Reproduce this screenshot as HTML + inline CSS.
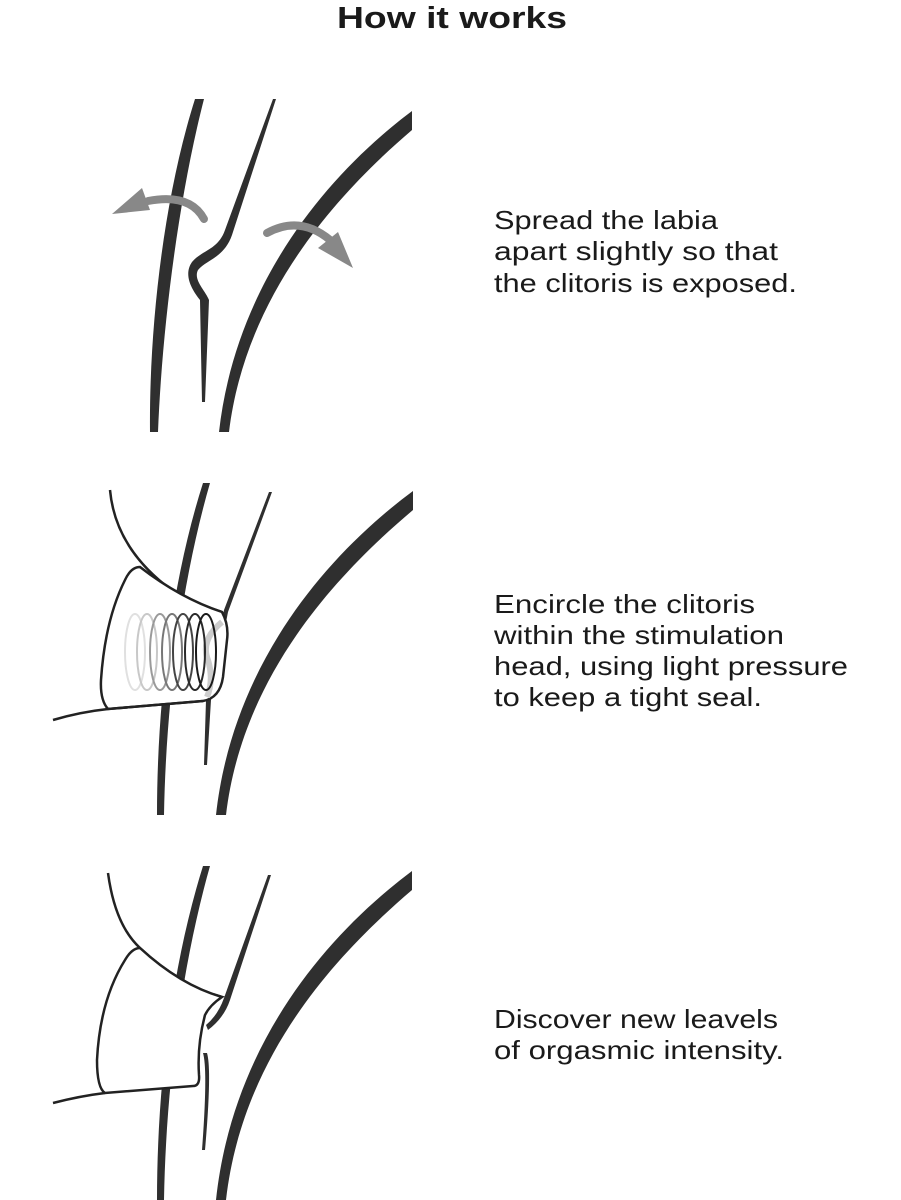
<!DOCTYPE html>
<html><head><meta charset="utf-8"><style>
html,body{margin:0;padding:0;background:#fff}
svg{display:block}
text{font-family:"Liberation Sans",sans-serif;fill:#1a1a1a}
</style></head><body>
<svg width="901" height="1200" viewBox="0 0 901 1200" xmlns="http://www.w3.org/2000/svg">
<text x="337" y="28" font-size="31" font-weight="bold" textLength="230" lengthAdjust="spacingAndGlyphs">How it works</text>

<!-- Panel 1 -->
<g fill="#2f2f2f">
<path d="M195,99 C163,200 149,330 150,432 L158,432 C162,330 178,200 204,99 Z"/>
<path d="M273,99 L225,230 C218,250 202,250 192,262 C183,275 192,290 200,300 L202,402 L205,402 L209,300 C205,290 193,280 198,270 C206,260 224,258 232,235 L276,99 Z"/>
<path d="M412,111 C320,180 235,290 219,432 L229,432 C245,300 330,200 412,130 Z"/>
</g>
<g fill="none" stroke="#888" stroke-width="8" stroke-linecap="round">
<path d="M204,219 Q190,193 148,201"/>
<path d="M267,233 Q300,215 330,240"/>
</g>
<g fill="#888">
<polygon points="112,214 142,188 150,210"/>
<polygon points="353,268 318,248 338,232"/>
</g>

<!-- Panel 2 -->
<g fill="#2f2f2f">
<path d="M203,483 C172,580 157,700 157,815 L164,815 C166,700 182,580 210,483 Z"/>
<path d="M269,492 L224,610 L206,700 L204,765 L207,765 L211,700 L228,612 L272,492 Z"/>
<path d="M413,491 C320,560 232,670 216,815 L226,815 C242,680 330,580 413,510 Z"/>
</g>
<path d="M110,490 Q115,545 165,585 Q190,602 222,612" fill="none" stroke="#222" stroke-width="2.5"/>
<path d="M140,567 Q180,598 222,612 Q229,625 227,640 L223,677 Q220,698 203,701 L108,709 Q100,700 101,680 Q105,620 125,580 Q131,567 140,567 Z" fill="#fff" stroke="#222" stroke-width="2.5"/>
<path d="M222,622 Q200,640 208,660 Q214,680 207,697" fill="none" stroke="#ccc" stroke-width="6"/>
<path d="M53,720 Q80,712 108,709 L203,701" fill="none" stroke="#222" stroke-width="2.5"/>
<g fill="none" stroke-width="2">
<ellipse cx="135" cy="652" rx="10" ry="38" stroke="#e0e0e0"/>
<ellipse cx="147" cy="652" rx="10" ry="38" stroke="#c8c8c8"/>
<ellipse cx="160" cy="652" rx="10" ry="38" stroke="#9a9a9a"/>
<ellipse cx="172" cy="652" rx="10" ry="38" stroke="#777"/>
<ellipse cx="183" cy="652" rx="10" ry="38" stroke="#444"/>
<ellipse cx="195" cy="652" rx="10" ry="38" stroke="#2a2a2a"/>
<ellipse cx="206" cy="652" rx="10" ry="38" stroke="#1a1a1a"/>
</g>

<!-- Panel 3 -->
<g fill="#2f2f2f">
<path d="M203,866 C172,965 157,1085 157,1200 L164,1200 C166,1085 182,965 210,866 Z"/>
<path d="M268,875 L224,998 Q218,1015 206,1025 L208,1030 Q224,1018 230,1000 L271,875 Z"/>
<path d="M203,1053 Q208,1070 202,1150 L205,1150 Q212,1070 207,1053 Z"/>
<path d="M412,871 C320,940 232,1050 216,1200 L226,1200 C242,1060 330,960 412,890 Z"/>
</g>
<path d="M108,873 Q115,925 140,948 Q180,985 222,997" fill="none" stroke="#222" stroke-width="2.5"/>
<path d="M140,948 Q180,985 222,997 Q210,1005 205,1015 Q197,1045 199,1075 Q200,1086 193,1086 L105,1093 Q97,1088 97,1060 Q100,1000 125,960 Q132,948 140,948 Z" fill="#fff" stroke="#222" stroke-width="2.5"/>
<path d="M53,1103 Q80,1096 105,1093" fill="none" stroke="#222" stroke-width="2.5"/>

<!-- Texts -->
<g font-size="26">
<text x="494" y="229" textLength="224" lengthAdjust="spacingAndGlyphs">Spread the labia</text>
<text x="494" y="260" textLength="284" lengthAdjust="spacingAndGlyphs">apart slightly so that</text>
<text x="494" y="292" textLength="303" lengthAdjust="spacingAndGlyphs">the clitoris is exposed.</text>
<text x="494" y="613" textLength="261" lengthAdjust="spacingAndGlyphs">Encircle the clitoris</text>
<text x="494" y="644" textLength="290" lengthAdjust="spacingAndGlyphs">within the stimulation</text>
<text x="494" y="675" textLength="354" lengthAdjust="spacingAndGlyphs">head, using light pressure</text>
<text x="494" y="706" textLength="268" lengthAdjust="spacingAndGlyphs">to keep a tight seal.</text>
<text x="494" y="1028" textLength="284" lengthAdjust="spacingAndGlyphs">Discover new leavels</text>
<text x="494" y="1059" textLength="290" lengthAdjust="spacingAndGlyphs">of orgasmic intensity.</text>
</g>
</svg>
</body></html>
